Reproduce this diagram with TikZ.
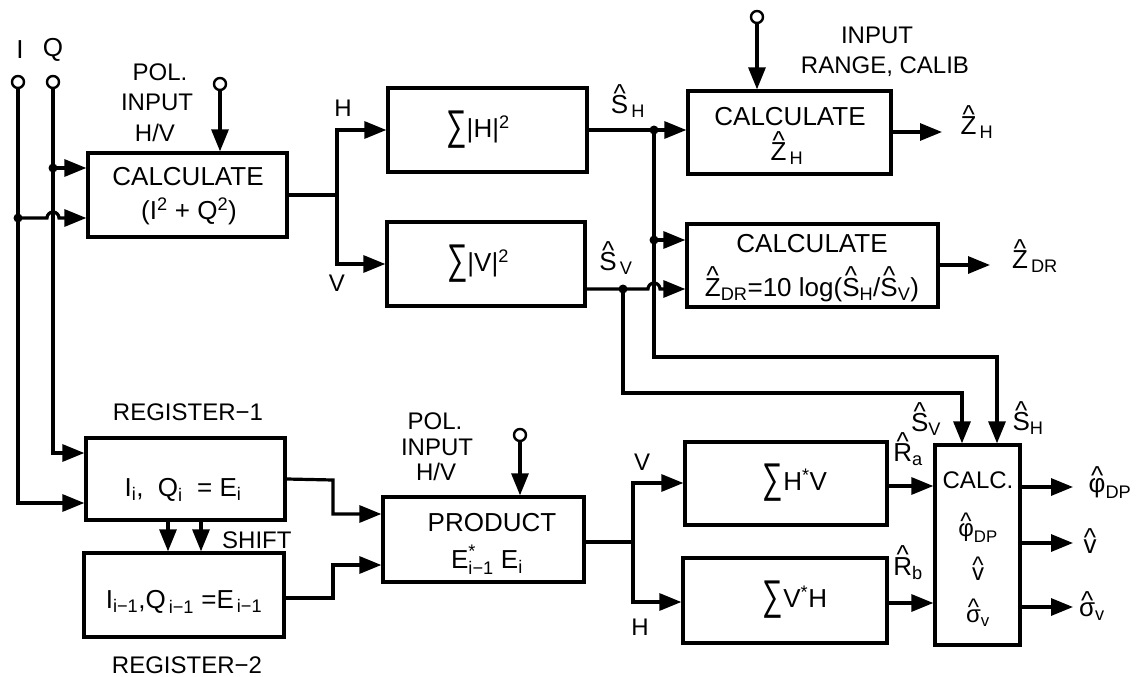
\documentclass[tikz,border=0pt]{standalone}
\usepackage{amsmath}
\usepackage{fontspec}
\setmainfont{Liberation Sans}
\usetikzlibrary{arrows.meta}
\newcommand\hh[1]{\leavevmode\setbox0=\hbox{#1}\hbox to \wd0{\hss\raisebox{\dimexpr\ht0-0.24em\relax}{\textasciicircum}\hss}\kern-\wd0\box0}
\newcommand\sbs[2]{\ensuremath{\text{#1}_{\text{#2}}}}
\newcommand\hsb[2]{\ensuremath{\mbox{\hh{#1}}_{\text{#2}}}}
\newcommand\bigsum{\raisebox{-2.5pt}{\scalebox{1.1}[1.6]{∑}}}
\begin{document}
\begin{tikzpicture}[x=1pt,y=-1pt,
  ln/.style={line width=3.2pt},
  arr/.style={ln,-{Triangle[length=22pt,width=17pt]}},
  box/.style={draw,line width=3.3pt,inner sep=0pt},
  term/.style={draw,circle,line width=2.4pt,minimum size=12pt,inner sep=0pt,fill=white},
  lbl/.style={inner sep=0pt,font=\fontsize{26}{30}\selectfont},
  slbl/.style={inner sep=0pt,font=\fontsize{24}{28}\selectfont},
  dot/.style={circle,fill,inner sep=0pt,minimum size=9pt}
]
\useasboundingbox (0,0) rectangle (1141,677);

% ---------- boxes ----------
\node[box,minimum width=199pt,minimum height=84pt] (calc1) at (187.5,195) {};
\node[box,minimum width=199pt,minimum height=84pt] (sumH) at (487.5,130) {};
\node[box,minimum width=198pt,minimum height=84pt] (sumV) at (486,264) {};
\node[box,minimum width=203pt,minimum height=83pt] (calcZH) at (789.5,132.5) {};
\node[box,minimum width=251pt,minimum height=83pt] (calcDR) at (812.5,265.5) {};
\node[box,minimum width=199pt,minimum height=82pt] (reg1) at (185.5,479) {};
\node[box,minimum width=200pt,minimum height=84pt] (reg2) at (184,595) {};
\node[box,minimum width=201pt,minimum height=85pt] (prod) at (483.5,539.5) {};
\node[box,minimum width=202pt,minimum height=83pt] (HV) at (786,483.5) {};
\node[box,minimum width=204pt,minimum height=85pt] (VH) at (785,600.5) {};
\node[box,minimum width=85pt,minimum height=200pt] (calc) at (977.5,545) {};

% ---------- box texts ----------
\node[lbl] (t1a) at (188,177) {CALCULATE};
\node[lbl] (t1b) at (189,211) {(I\textsuperscript{2} + Q\textsuperscript{2})};
\node[lbl] (t2) at (478,130) {\bigsum|H|\textsuperscript{2}};
\node[lbl] (t3) at (478,264) {\bigsum|V|\textsuperscript{2}};
\node[lbl] (t4a) at (790,117) {CALCULATE};
\node[lbl] (t4b) at (787,148) {\hsb{Z}{\,H}};
\node[lbl] (t5a) at (812,244) {CALCULATE};
\node[lbl] (t5b) at (812,284) {\hsb{Z}{DR}=10 log(\hsb{S}{H}/\hsb{S}{V})};
\node[lbl] (t6) at (183,490) {\sbs{I}{i}, \ \sbs{Q}{i} \ = \sbs{E}{i}};
\node[lbl] (t7) at (184,602) {\sbs{I}{i−1},\sbs{Q}{\,i−1} =\sbs{E}{\,i−1}};
\node[lbl] (t8a) at (492,523) {PRODUCT};
\node[lbl] (t8b) at (487,560) {$\text{E}^{\text{*}}_{\text{i−1}}$ \sbs{E}{i}};
\node[lbl] (t9) at (795,483) {\bigsum H\textsuperscript{*}V};
\node[lbl] (t10) at (795,600) {\bigsum V\textsuperscript{*}H};
\node[slbl] (t11a) at (978,480) {CALC.};
\node[slbl] (t11b) at (978,528) {\hsb{φ}{DP}};
\node[slbl] (t11c) at (978,569) {\hh{v}};
\node[slbl] (t11d) at (978,613) {\hsb{σ}{v}};

% ---------- terminals and dots ----------
\node[term] (cI) at (18,82) {};
\node[term] (cQ) at (53,82) {};
\node[term] (cP1) at (220,84) {};
\node[term] (cR) at (757,17) {};
\node[term] (cP2) at (520,435) {};
\node[dot] (dQ) at (53,168) {};
\node[dot] (dI) at (18,218) {};
\node[dot] (dSH) at (654,130) {};
\node[dot] (dDR) at (654,240) {};
\node[dot] (dSV) at (623,289) {};
\coordinate (sp1) at (337,195);
\coordinate (sp2) at (633,542);
\coordinate (j1) at (333,480);
\coordinate (xSH) at (997,357);
\coordinate (xSV) at (962,393);
\coordinate (oZH) at (942,132);
\coordinate (oDR) at (990,265);
\coordinate (oP) at (1073,487);
\coordinate (oV) at (1073,543);
\coordinate (oS) at (1073,607);

% ---------- connectors ----------
\draw[arr] (cI.south) |- (reg1.west |- 0,503);
\draw[arr] (cQ.south) |- (reg1.west |- 0,453);
\draw[arr] (dQ.center) -- (calc1.west |- dQ);
\draw[arr] (dI.center) -- (47,218) arc[start angle=180,end angle=360,radius=6] -- (calc1.west |- dI);
\draw[arr] (cP1.south) -- (cP1 |- calc1.north);
\draw[ln] (calc1.east) -- (sp1);
\draw[arr] (sp1) |- (sumH.west);
\draw[arr] (sp1) |- (sumV.west);
\draw[arr] (sumH.east) -- (sumH.east -| calcZH.west);
\draw[arr] (dSH.center) |- (xSH) -- (xSH |- calc.north);
\draw[arr] (dDR.center) -- (calcDR.west |- dDR);
\draw[arr] (sumV.east |- dSV) -- (648,289) arc[start angle=180,end angle=360,radius=6] -- (calcDR.west |- dSV);
\draw[arr] (dSV.center) |- (xSV) -- (xSV |- calc.north);
\draw[arr] (calcZH.east |- oZH) -- (oZH);
\draw[arr] (calcDR.east |- oDR) -- (oDR);
\draw[arr] (cR.south) -- (cR |- calcZH.north);
\draw[arr] (reg1.east) -- (j1) |- (prod.west |- 0,514);
\draw[arr] (reg2.east |- 0,598) -- (333,598) |- (prod.west |- 0,565);
\draw[arr] (reg1.south -| 168,0) -- (reg2.north -| 168,0);
\draw[arr] (reg1.south -| 201,0) -- (reg2.north -| 201,0);
\draw[arr] (cP2.south) -- (cP2 |- prod.north);
\draw[ln] (prod.east |- sp2) -- (sp2);
\draw[arr] (sp2) |- (HV.west |- 0,483);
\draw[arr] (sp2) |- (VH.west |- 0,602);
\draw[arr] (HV.east |- 0,486) -- (calc.west |- 0,486);
\draw[arr] (VH.east |- 0,603) -- (calc.west |- 0,603);
\draw[arr] (calc.east |- oP) -- (oP);
\draw[arr] (calc.east |- oV) -- (oV);
\draw[arr] (calc.east |- oS) -- (oS);

% ---------- labels ----------
\node[lbl] (lI) at (20,50) {I};
\node[lbl] (lQ) at (53,50) {Q};
\node[slbl] (lp1a) at (160,72) {POL.};
\node[slbl] (lp1b) at (157,102) {INPUT};
\node[slbl] (lp1c) at (155,133) {H/V};
\node[slbl] (lH1) at (343,108) {H};
\node[slbl] (lV1) at (337,283) {V};
\node[lbl] (lSH) at (628,101) {\hsb{S}{\,H}};
\node[lbl] (lSV) at (616,258) {\hsb{S}{\,V}};
\node[slbl] (lin1) at (877,35) {INPUT};
\node[slbl] (lin2) at (885,67) {RANGE, CALIB};
\node[lbl] (lZH) at (977,122) {\hsb{Z}{\,H}};
\node[lbl] (lZDR) at (1035,256) {\hsb{Z}{\,DR}};
\node[slbl] (lr1) at (188,412) {REGISTER−1};
\node[slbl] (lr2) at (187,665) {REGISTER−2};
\node[slbl,anchor=west] (lsh) at (222,540) {SHIFT};
\node[slbl] (lp2a) at (435,421) {POL.};
\node[slbl] (lp2b) at (437,447) {INPUT};
\node[slbl] (lp2c) at (436,472) {H/V};
\node[slbl] (lV2) at (642,462) {V};
\node[slbl] (lH2) at (640,627) {H};
\node[lbl] (lRa) at (908,449) {\hsb{R}{a}};
\node[lbl] (lRb) at (908,563) {\hsb{R}{b}};
\node[lbl] (lSV2) at (926,419) {\hsb{S}{V}};
\node[lbl] (lSH2) at (1028,418) {\hsb{S}{H}};
\node[lbl] (lP) at (1110,483) {\hsb{φ}{DP}};
\node[lbl] (lVo) at (1090,541) {\hh{v}};
\node[lbl] (lSo) at (1092,606) {\hsb{σ}{v}};
\end{tikzpicture}
\end{document}
